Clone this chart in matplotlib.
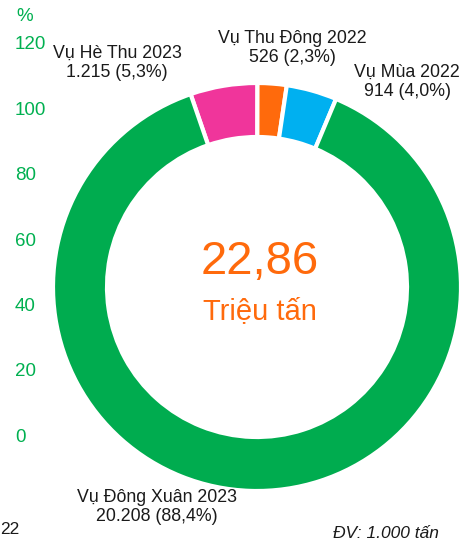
import matplotlib.pyplot as plt
import matplotlib.transforms as mtransforms

plt.rcParams['font.family'] = ['Liberation Sans', 'DejaVu Sans']

# ── data (1.000 tấn) ──
seasons = ['Vụ Hè Thu 2023', 'Vụ Thu Đông 2022', 'Vụ Mùa 2022', 'Vụ Đông Xuân 2023']
values = [1215, 526, 914, 20208]
shares = [5.3, 2.3, 4.0, 88.4]
colors = ['#F0359B', '#FF6A0C', '#00B0F0', '#00AC4F']
total_label = '22,86'
pct_ticks = [0, 20, 40, 60, 80, 100, 120]

W, H = 469, 540
fig = plt.figure(figsize=(W / 100, H / 100), dpi=100)

# donut drawn in a full-figure axes measured in pixels
ax = fig.add_axes([0, 0, 1, 1])
ax.pie(values, colors=colors, startangle=109, counterclock=False,
       radius=204, center=(257, H - 287), frame=True,
       wedgeprops=dict(width=54, edgecolor='white', linewidth=3))
ax.set_xlim(0, W)
ax.set_ylim(0, H)
ax.axis('off')


def fmt(v):
    return f'{v:,}'.replace(',', '.')


def lbl(i):
    pct = f'{shares[i]:.1f}'.replace('.', ',')
    return f'{seasons[i]}\n{fmt(values[i])} ({pct}%)'


label_pos = [(117, 63), (292, 48), (407, 82), (157, 507)]
for i, (x, y) in enumerate(label_pos):
    ax.text(x, H - y, lbl(i), ha='center', va='center', fontsize=12.8,
            color='#1a1a1a', linespacing=1.12)

ax.text(260, H - 262, total_label, ha='center', va='center',
        fontsize=34, color='#FF6A0C')
ax.text(260, H - 311, 'Triệu tấn', ha='center', va='center',
        fontsize=21, color='#FF6A0C')

ax.text(386, H - 533, 'ĐV: 1.000 tấn', ha='center', va='center',
        fontsize=12.5, style='italic', color='#1a1a1a')
ax.text(0, H - 530, '22', ha='left', va='center', fontsize=12.5,
        color='#1a1a1a')

# green percent scale on the left
ax_y = fig.add_axes([15 / W, (H - 437) / H, 0.1, (437 - 45) / H])
ax_y.set_ylim(0, 120)
ax_y.axis('off')
tr = mtransforms.blended_transform_factory(ax_y.transAxes, ax_y.transData)
for v in pct_ticks:
    ax_y.text(0, v, str(v), transform=tr, ha='left', va='center',
              fontsize=13.5, color='#00B050')
ax_y.text(0.03, 120 + 120 * 28 / 392, '%', transform=tr, ha='left',
          va='center', fontsize=13.5, color='#00B050')

fig.savefig('out.png', dpi=100)
